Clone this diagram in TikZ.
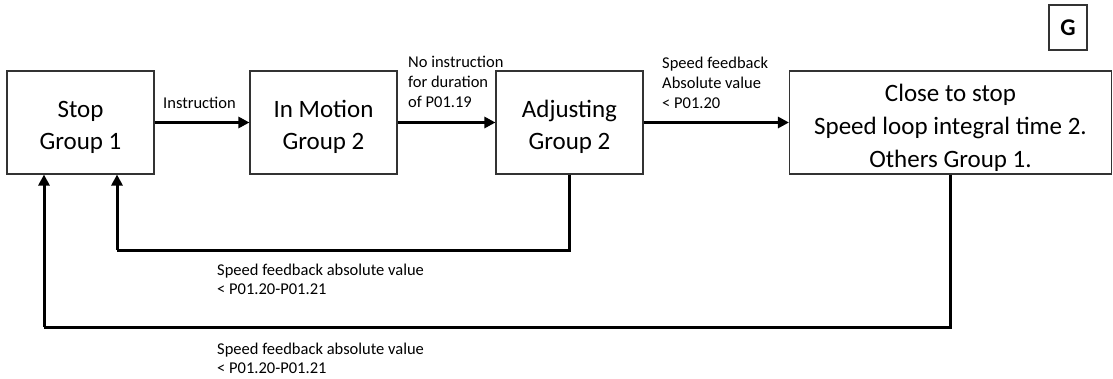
\documentclass[tikz,border=0pt]{standalone}
\usepackage{fontspec}
\setmainfont{Carlito}
\usetikzlibrary{arrows.meta,calc}
\newcommand\myup[1]{\rule{0pt}{#1pt}}
\begin{document}
\begin{tikzpicture}[x=1pt,y=-1pt,
  statebox/.style={draw=black!80,line width=1.1pt,rectangle,minimum height=103pt,
    align=center,inner sep=0pt,font=\fontsize{25}{32}\selectfont},
  conn/.style={line width=3pt,-{Triangle[length=11pt,width=11pt]}},
  plainconn/.style={line width=3pt},
  lbl/.style={align=left,inner sep=0pt,anchor=west,font=\fontsize{16.5}{20}\selectfont},
  blbl/.style={align=left,inner sep=0pt,anchor=west,font=\fontsize{16.5}{19}\selectfont}]
\useasboundingbox (0,0) rectangle (1113,378);
\node[statebox,minimum width=147pt] (stop) at (80.5,122.5) {\myup{26}Stop\\Group 1};
\node[statebox,minimum width=147pt] (motion) at (323.5,122.5) {\myup{26}In Motion\\Group 2};
\node[statebox,minimum width=147pt] (adj) at (569.5,122.5) {\myup{26}Adjusting\\Group 2};
\node[statebox,minimum width=322pt,font=\fontsize{25}{33}\selectfont] (close) at (950.5,122.5) {\myup{29}Close to stop\\Speed loop integral time 2.\\Others Group 1.};
\node[draw=black!80,line width=1.1pt,minimum width=38pt,minimum height=45pt,inner sep=0pt,font=\fontsize{24}{28}\selectfont\bfseries] (g) at (1068,27.5) {G};
\draw[conn] (stop.east) -- (motion.west);
\draw[conn] (motion.east) -- (adj.west);
\draw[conn] (adj.east) -- (close.west);
\node[lbl] (l1) at (163,103) {Instruction};
\node[lbl] (l2) at (408,82) {No instruction\\for duration\\of P01.19};
\node[lbl] (l3) at (662,83) {Speed feedback\\Absolute value\\< P01.20};
\coordinate (c1) at (117,250);
\coordinate (c2) at (44,327);
\draw[plainconn] (adj.south) |- (c1);
\draw[conn] (c1) -- (c1 |- stop.south);
\draw[plainconn] (close.south) |- (c2);
\draw[conn] (c2) -- (c2 |- stop.south);
\node[blbl] (l4) at (217,279) {Speed feedback absolute value\\< P01.20-P01.21};
\node[blbl] (l5) at (217,358.5) {Speed feedback absolute value\\< P01.20-P01.21};
\end{tikzpicture}
\end{document}
